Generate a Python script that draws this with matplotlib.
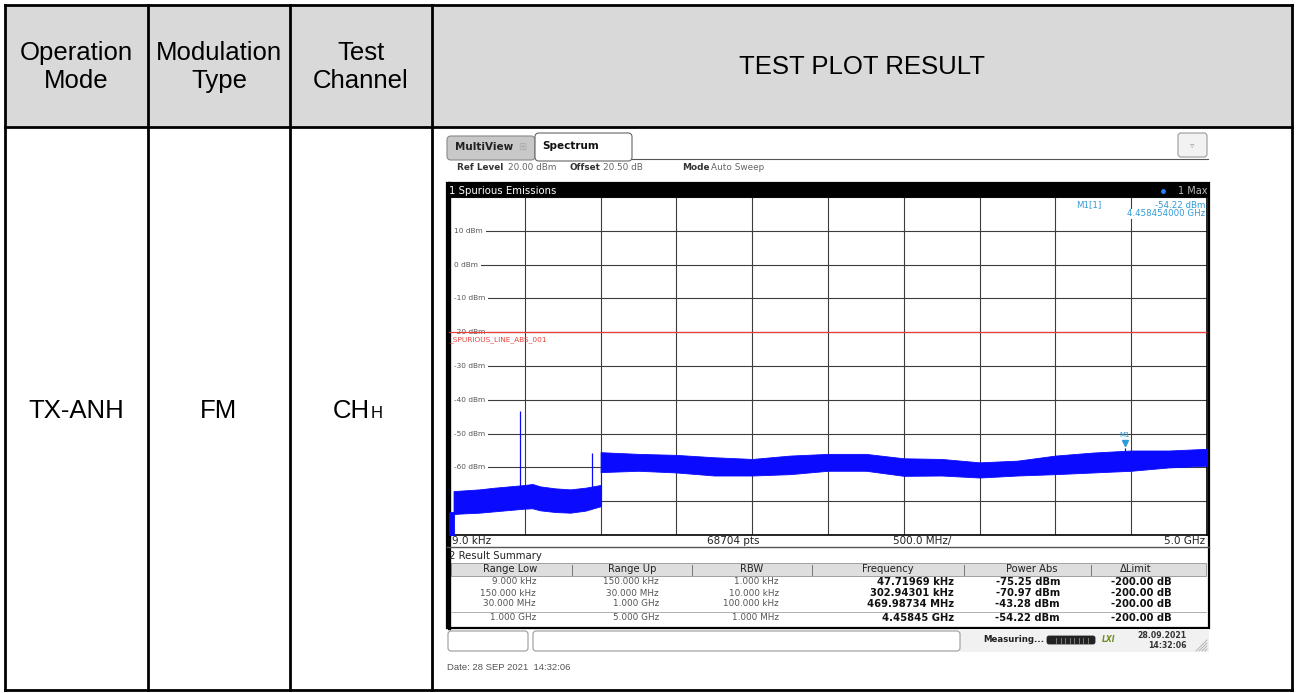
import matplotlib

matplotlib.use("Agg")
import matplotlib.pyplot as plt
import matplotlib.transforms as mtransforms
from matplotlib.patches import Rectangle, FancyBboxPatch
import numpy as np

plt.rcParams.update({"font.family": "DejaVu Sans"})

# ---- report table ----
header_cells = ["Operation\nMode", "Modulation\nType", "Test\nChannel", "TEST PLOT RESULT"]
row_cells = ["TX-ANH", "FM", "CH"]
channel_subscript = "H"

# ---- analyzer settings shown on the screen ----
ref_level = "20.00 dBm"
offset_db = "20.50 dB"
sweep_mode = "Auto Sweep"
n_points = 68704
f_start_label = "9.0 kHz"
f_stop_label = "5.0 GHz"
f_div_label = "500.0 MHz/"
f_stop_ghz = 5.0
level_top = 20
level_bottom = -80
level_ticks = [10, 0, -10, -20, -30, -40, -50, -60, -70]
limit_dbm = -20
limit_name = "_SPURIOUS_LINE_ABS_001"

# ---- trace envelope (GHz, dBm) ----
lf_freq = [0.0, 0.03]
lf_upper = [-73.2, -73.2]
lf_lower = [-80.0, -80.0]

vhf_freq = [0.03, 0.1, 0.2, 0.3, 0.4, 0.5, 0.55, 0.6, 0.7, 0.8, 0.9, 1.0]
vhf_upper = [-67.0, -66.8, -66.5, -66.0, -65.6, -65.2, -64.9, -65.6, -66.2, -66.5, -66.0, -65.2]
vhf_lower = [-73.8, -73.6, -73.4, -73.0, -72.6, -72.2, -72.1, -72.7, -73.2, -73.4, -72.8, -71.5]

uhf_freq = [1.0, 1.25, 1.5, 1.75, 2.0, 2.25, 2.5, 2.75, 3.0, 3.25, 3.5, 3.75, 4.0, 4.25, 4.5, 4.75, 5.0]
uhf_upper = [-55.5, -56.0, -56.3, -57.0, -57.5, -56.5, -56.0, -56.0, -57.3, -57.5, -58.5, -58.0,
             -56.5, -55.6, -55.0, -55.0, -54.5]
uhf_lower = [-61.4, -61.0, -61.5, -62.4, -62.4, -62.0, -61.0, -61.0, -62.5, -62.4, -63.0, -62.4,
             -62.0, -61.5, -61.0, -60.0, -59.5]

spike_freq = [0.46999, 0.94, 4.45845]
spike_base = [-66.0, -66.5, -57.0]
spike_top = [-43.28, -55.8, -54.22]

m1_freq = 4.458454
m1_level = -54.22

# ---- result summary ----
summary_cols = ["Range Low", "Range Up", "RBW", "Frequency", "Power Abs", "\u0394Limit"]
range_low = ["9.000 kHz", "150.000 kHz", "30.000 MHz", "1.000 GHz"]
range_up = ["150.000 kHz", "30.000 MHz", "1.000 GHz", "5.000 GHz"]
rbw = ["1.000 kHz", "10.000 kHz", "100.000 kHz", "1.000 MHz"]
peak_freq = ["47.71969 kHz", "302.94301 kHz", "469.98734 MHz", "4.45845 GHz"]
power_abs = ["-75.25 dBm", "-70.97 dBm", "-43.28 dBm", "-54.22 dBm"]
delta_limit = ["-200.00 dB", "-200.00 dB", "-200.00 dB", "-200.00 dB"]
screen_date = "28.09.2021"
screen_time = "14:32:06"
footer_date = "Date: 28 SEP 2021  14:32:06"

W, H = 1298, 693
BLUE = "#0a0aff"
MARK = "#2f9ad8"
TABLE_FONT = "Liberation Sans"

fig = plt.figure(figsize=(W / 100, H / 100), dpi=100)
bg = fig.add_axes([0, 0, 1, 1])
bg.set_xlim(0, W)
bg.set_ylim(H, 0)
bg.axis("off")

# ---------------- table ----------------
col_x = [5, 148, 290, 432, 1292]
row_y = [5, 127, 690]
bg.add_patch(Rectangle((col_x[0], row_y[0]), col_x[-1] - col_x[0], row_y[1] - row_y[0],
                       fc="#d9d9d9", ec="none"))
for x in col_x:
    bg.plot([x, x], [row_y[0], row_y[-1]], color="black", lw=2.0, solid_capstyle="projecting")
for y in row_y:
    bg.plot([col_x[0], col_x[-1]], [y, y], color="black", lw=2.0, solid_capstyle="projecting")

for i, txt in enumerate(header_cells):
    cx = (col_x[i] + col_x[i + 1]) / 2
    bg.text(cx, 67, txt, ha="center", va="center", fontsize=18.5, family=TABLE_FONT,
            linespacing=1.25)
row_cy = 411
for i, txt in enumerate(row_cells[:2]):
    bg.text((col_x[i] + col_x[i + 1]) / 2, row_cy, txt, ha="center", va="center",
            fontsize=18.5, family=TABLE_FONT)
bg.text(370, row_cy + 7, row_cells[2], ha="right", va="baseline", fontsize=18.5, family=TABLE_FONT)
bg.text(371, row_cy + 7, channel_subscript, ha="left", va="baseline", fontsize=12, family=TABLE_FONT)

# ---------------- analyzer screen chrome ----------------
bg.add_patch(FancyBboxPatch((447, 136), 88, 24, boxstyle="round,pad=0,rounding_size=4",
                            fc="#c8c8c8", ec="#8a8a8a", lw=0.8))
bg.text(455, 147, "MultiView", fontsize=7.5, weight="bold", va="center", color="#222")
bg.text(522, 147, "\u229e", fontsize=7, va="center", ha="center", color="#aaaaaa")
bg.add_patch(FancyBboxPatch((535, 133), 97, 28, boxstyle="round,pad=0,rounding_size=4",
                            fc="white", ec="#666666", lw=0.8))
bg.text(542, 146, "Spectrum", fontsize=7.5, weight="bold", va="center", color="#111")
bg.plot([632, 1208], [158.5, 158.5], color="#555555", lw=0.8)
bg.add_patch(FancyBboxPatch((1178, 133), 29, 24, boxstyle="round,pad=0,rounding_size=3",
                            fc="#f2f2f2", ec="#9a9a9a", lw=0.8))
bg.text(1192.5, 145, "\u25bf", fontsize=6, ha="center", va="center", color="#999999")

info = [(457, "Ref Level", "bold"), (508, ref_level, "normal"), (570, "Offset", "bold"),
        (603, offset_db, "normal"), (682, "Mode", "bold"), (711, sweep_mode, "normal")]
for x, txt, wt in info:
    bg.text(x, 167, txt, fontsize=6.4, weight=wt, va="center",
            color="#333" if wt == "bold" else "#666")

# black frame around diagram + summary
bg.add_patch(Rectangle((447, 183), 762, 445, fc="none", ec="black", lw=1.6))
bg.plot([448.5, 448.5], [183, 628], color="black", lw=2.4)
bg.add_patch(Rectangle((447, 183), 762, 14, fc="black", ec="none"))
bg.text(449, 190.5, "1 Spurious Emissions", fontsize=7.3, color="white", va="center")
bg.plot([1163], [190.5], marker="o", ms=2.5, color="#2a7fff")
bg.text(1207, 190.5, "1 Max", fontsize=7, color="#bbbbbb", va="center", ha="right")

# x-axis info bar
bg.plot([447, 1209], [547, 547], color="#555555", lw=1.0)
bg.text(452, 541, f_start_label, fontsize=7.5, va="center", color="#222")
bg.text(733, 541, f"{n_points} pts", fontsize=7.5, va="center", ha="center", color="#222")
bg.text(922, 541, f_div_label, fontsize=7.5, va="center", ha="center", color="#222")
bg.text(1205, 541, f_stop_label, fontsize=7.5, va="center", ha="right", color="#222")

# result summary
bg.text(449, 556, "2 Result Summary", fontsize=7.3, va="center", color="#222")
bg.add_patch(Rectangle((451, 563), 755, 13, fc="#dedede", ec="#a0a0a0", lw=0.7))
for x in [572, 692, 812, 964, 1091]:
    bg.plot([x, x], [564.5, 574.5], color="#777777", lw=0.7)
head_cx = [510, 632, 752, 888, 1032, 1136]
for cx, txt in zip(head_cx, summary_cols):
    bg.text(cx, 569.5, txt, fontsize=7.2, ha="center", va="center", color="#222")
row_ys = [582, 593, 604, 618]
bg.plot([451, 1206], [612, 612], color="#b0b0b0", lw=0.7)
col_specs = [(536, range_low, "normal", 6.4, "#555"), (659, range_up, "normal", 6.4, "#555"),
             (779, rbw, "normal", 6.4, "#555"), (954, peak_freq, "bold", 7.2, "#111"),
             (1060, power_abs, "bold", 7.2, "#111"), (1172, delta_limit, "bold", 7.2, "#111")]
for rx, vals, wt, fs, col in col_specs:
    for ry, v in zip(row_ys, vals):
        bg.text(rx, ry, v, fontsize=fs, weight=wt, ha="right", va="center", color=col)

# status bar
bg.add_patch(Rectangle((960, 629), 249, 23, fc="#f1f1f1", ec="none"))
bg.add_patch(FancyBboxPatch((448, 631), 80, 20, boxstyle="round,pad=0,rounding_size=3",
                            fc="white", ec="#9a9a9a", lw=0.8))
bg.add_patch(FancyBboxPatch((533, 631), 427, 20, boxstyle="round,pad=0,rounding_size=3",
                            fc="white", ec="#9a9a9a", lw=0.8))
bg.text(983, 640, "Measuring...", fontsize=6.2, weight="bold", va="center", color="#222")
bg.add_patch(FancyBboxPatch((1047, 636), 48, 8, boxstyle="round,pad=0,rounding_size=2",
                            fc="#222222", ec="#222222", lw=0.6))
for x in np.arange(1056, 1090, 4.5):
    bg.plot([x, x], [637.5, 642.5], color="#888888", lw=0.6)
bg.text(1109, 640, "LXI", fontsize=5.5, weight="bold", style="italic", ha="center",
        va="center", color="#6f8f1f")
bg.text(1187, 636, screen_date, fontsize=5.6, weight="bold", ha="right", va="center", color="#333")
bg.text(1187, 645.5, screen_time, fontsize=5.6, weight="bold", ha="right", va="center", color="#333")
for d in [0, 3, 6, 9]:
    bg.plot([1196 + d, 1207], [651, 640 + d], color="#aaaaaa", lw=0.6)

bg.text(447, 668, footer_date, fontsize=6.8, family=TABLE_FONT, va="center", color="#555")

# ---------------- spectrum diagram ----------------
x0, x1, y0, y1 = 449, 1207, 197, 535
ax = fig.add_axes([x0 / W, (H - y1) / H, (x1 - x0) / W, (y1 - y0) / H])
ax.set_xlim(0, f_stop_ghz)
ax.set_ylim(level_bottom, level_top)
ax.set_xticks(np.linspace(0, f_stop_ghz, 11))
ax.set_yticks(np.arange(level_bottom, level_top + 1, 10))
ax.grid(True, color="#3c3c3c", lw=0.8)
ax.tick_params(length=0, labelbottom=False, labelleft=False)
for s in ax.spines.values():
    s.set_color("black")
    s.set_linewidth(1.2)
ax.spines["left"].set_linewidth(2.4)

ytrans = mtransforms.blended_transform_factory(ax.transAxes, ax.transData)
for lvl in level_ticks:
    ax.text(0.006, lvl, f"{lvl} dBm", transform=ytrans, fontsize=5.3, color="#555555",
            va="center", ha="left", zorder=2,
            bbox=dict(fc="white", ec="none", boxstyle="square,pad=0.45"))

ax.axhline(limit_dbm, color="#e8413c", lw=0.9, zorder=5)
ax.text(0.0, limit_dbm - 2.1, limit_name, transform=ytrans, fontsize=5.3, color="#e8413c",
        va="center", ha="left", zorder=5)

for fq, up, lo in [(lf_freq, lf_upper, lf_lower), (vhf_freq, vhf_upper, vhf_lower),
                   (uhf_freq, uhf_upper, uhf_lower)]:
    ax.fill_between(fq, lo, up, color=BLUE, lw=0.6, zorder=3)
ax.vlines(spike_freq, spike_base, spike_top, color=BLUE, lw=0.9, zorder=3)
# vertical edge where the RBW changes at 1 GHz
ax.vlines([vhf_freq[-1]], [vhf_lower[-1]], [uhf_upper[0]], color=BLUE, lw=0.8, zorder=3)

up3 = ax.transData + mtransforms.ScaledTranslation(0, 3.5 / 72, fig.dpi_scale_trans)
ax.plot([m1_freq], [m1_level], marker="v", ms=4, color=MARK, transform=up3, zorder=6)
ax.annotate("M1", xy=(m1_freq, m1_level), xytext=(0, 9), textcoords="offset points",
            fontsize=5, color=MARK, ha="center", va="center", zorder=6)

ax.text(0.828, 0.976, "M1[1]", transform=ax.transAxes, fontsize=6.2, color=MARK,
        va="center", ha="left", zorder=6)
ax.text(0.998, 0.976, f"{m1_level:.2f} dBm", transform=ax.transAxes, fontsize=6.2,
        color=MARK, va="center", ha="right", zorder=6,
        bbox=dict(fc="white", ec="none", pad=0.5))
ax.text(0.998, 0.95, f"{m1_freq:.9f} GHz", transform=ax.transAxes, fontsize=6.2,
        color=MARK, va="center", ha="right", zorder=6,
        bbox=dict(fc="white", ec="none", pad=0.5))

fig.savefig("out.png", dpi=100)
